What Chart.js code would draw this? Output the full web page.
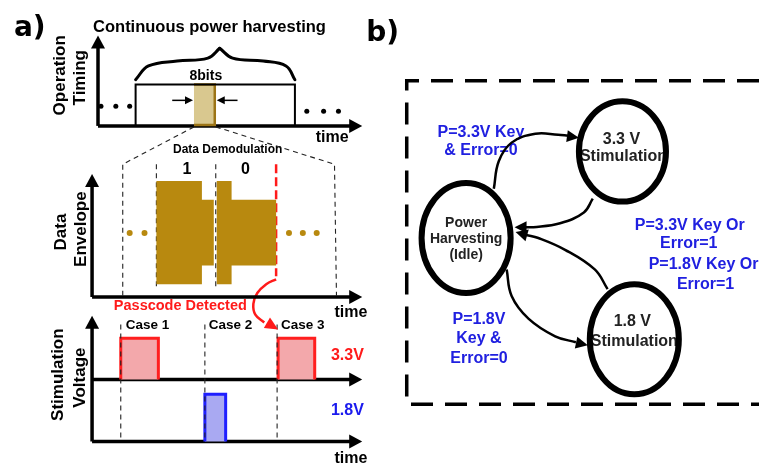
<!DOCTYPE html>
<html><head><meta charset="utf-8">
<script src="https://cdn.jsdelivr.net/npm/chart.js@4.4.0/dist/chart.umd.min.js"></script>
<style>html,body{margin:0;padding:0;background:#fff;overflow:hidden}canvas{display:block}</style>
</head><body>
<canvas id="c" width="763" height="475"></canvas>
<script>
// ---------- texts ----------
const panelTitles = ['a)', 'b)'];
const timingTitle = 'Continuous power harvesting';
const axisTitles = ['Operation', 'Timing', 'Data', 'Envelope', 'Stimulation', 'Voltage'];
const timeLabel = 'time';
const bitsLabel = '8bits';
const demodLabel = 'Data Demodulation';
const bitValues = ['1', '0'];
const passcodeLabel = 'Passcode Detected';
const caseLabels = ['Case 1', 'Case 2', 'Case 3'];
const voltageLabels = ['3.3V', '1.8V'];
const stateNames = ['3.3 V', 'Stimulation', 'Power', 'Harvesting', '(Idle)', '1.8 V', 'Stimulation'];
const conditionLabels = ['P=3.3V Key', '& Error=0', 'P=3.3V Key Or', 'Error=1', 'P=1.8V Key Or', 'Error=1', 'P=1.8V', 'Key &', 'Error=0'];

// ---------- diagram geometry (diagram units: x 0-763, y 0-475 downward) ----------
const axisLines = [
  [[95,124],[95,40]], [[95,124],[352,124]],
  [[89,298],[89,182]], [[89,298],[352,298]],
  [[89,445],[89,326]], [[89,382],[352,382]], [[89,445],[352,445]]
];
const axisTips = [[95,32,95,50],[362,124,340,124],[89,173,89,190],[362,298,340,298],[89,317,89,335],[362,382,340,382],[362,445,340,445]];
const frameBox = [[133,124],[133,82],[294,82],[294,124]];
const windowBox = [[192,82],[213,82],[213,123],[192,123]];
const windowArrows = [[[170,98],[186,98]], [[236,98],[220,98]]];
const windowTips = [[191,98,180,98],[215,98,226,98]];
const blackDots = [[98,104],[113,104],[127,104],[306,109],[323,109],[338,109]];
const zoomGuides = [[[192,125],[120,163],[120,297]], [[214,125],[334,163],[336,297]]];
const bitDividers = [[[154,163],[154,290]], [[214,163],[214,290]]];
const passcodeMarker = [[275,163],[275,277]];
const envelopeBit1 = [[154,180],[200,180],[200,199],[212,199],[212,266],[200,266],[200,285],[154,285]];
const envelopeBit0 = [[215,180],[230,180],[230,199],[275,199],[275,266],[230,266],[230,285],[215,285]];
const goldDots = [[127,233],[142,233],[288,233],[302,233],[316,233]];
const caseGuides = [[[118,326],[118,443]], [[203,326],[203,443]], [[276,326],[276,443]]];
const pulse33a = [[118,382],[118,340],[156,340],[156,382]];
const pulse33b = [[277,382],[277,340],[314,340],[314,382]];
const pulse18 = [[203,445],[203,397],[224,397],[224,445]];
const passcodeArrow = [[275,280],[265,285],[256,294],[252,305],[254,316],[263,324]];
const passcodeTip = [[277,331,262,322]];
const braceLeft = [[133,77],[146,63],[175,58],[206,55],[218,45]];
const braceRight = [[218,45],[231,55],[262,58],[285,63],[294,77]];

const stateFrame = [[763,78],[407,78],[407,407],[763,407]];
const stateNodes = [[625,150,44,51],[467,238,45,56],[637,341,45,56]];
const edgeIdleTo33 = [[495,188],[500,160],[513,141],[537,132],[560,133],[570,134]];
const edge33ToIdle = [[595,198],[586,212],[562,223],[535,227],[526,227]];
const edge18ToIdle = [[610,290],[597,270],[567,250],[540,238],[528,235]];
const edgeIdleTo18 = [[508,270],[513,297],[530,320],[557,338],[578,344]];
const edgeTips = [[581,136,566,134],[516,227,530,227],[517,232,531,236],[590,347,576,344]];

// ---------- text placement ----------
const B = "bold ";
const SANS = "'Liberation Sans', Arial, sans-serif";
const textItems = [
  // [text, x, baselineY, size, color, align, rotate]
  [panelTitles[0], 10, 33, 28, '#000', 'left', 0, "'DejaVu Sans'"],
  [panelTitles[1], 366, 38, 28, '#000', 'left', 0, "'DejaVu Sans'"],
  [timingTitle, 90, 28, 16.5, '#000', 'left', 0],
  [bitsLabel, 204, 77, 14, '#000', 'center', 0],
  [timeLabel, 315, 140, 16, '#000', 'left', 0],
  [timeLabel, 334, 318, 16, '#000', 'left', 0],
  [timeLabel, 334, 467, 16, '#000', 'left', 0],
  [demodLabel, 226, 152, 12, '#000', 'center', 0],
  [bitValues[0], 185, 173, 16, '#000', 'center', 0],
  [bitValues[1], 244, 173, 16, '#000', 'center', 0],
  [passcodeLabel, 111, 311, 14.5, '#ff1a1a', 'left', 0],
  [caseLabels[0], 123, 331, 13.5, '#000', 'left', 0],
  [caseLabels[1], 207, 331, 13.5, '#000', 'left', 0],
  [caseLabels[2], 280, 331, 13.5, '#000', 'left', 0],
  [voltageLabels[0], 347, 362, 16, '#ff1a1a', 'center', 0],
  [voltageLabels[1], 347, 418, 16, '#1a1aee', 'center', 0],
  [axisTitles[0], 62, 72.5, 17, '#000', 'center', 1],
  [axisTitles[1], 82, 75, 17, '#000', 'center', 1],
  [axisTitles[2], 63, 232, 17, '#000', 'center', 1],
  [axisTitles[3], 83, 229, 17, '#000', 'center', 1],
  [axisTitles[4], 60, 377, 17, '#000', 'center', 1],
  [axisTitles[5], 82, 380, 17, '#000', 'center', 1],
  [stateNames[0], 624, 142, 16, '#222', 'center', 0],
  [stateNames[1], 626, 160, 16, '#222', 'center', 0],
  [stateNames[2], 467, 227, 14, '#222', 'center', 0],
  [stateNames[3], 467, 243, 14, '#222', 'center', 0],
  [stateNames[4], 467, 259, 14, '#222', 'center', 0],
  [stateNames[5], 635, 328, 16, '#222', 'center', 0],
  [stateNames[6], 637, 348, 16, '#222', 'center', 0],
  [conditionLabels[0], 482, 135, 16, '#2020e0', 'center', 0],
  [conditionLabels[1], 482, 154, 16, '#2020e0', 'center', 0],
  [conditionLabels[2], 693, 230, 16, '#2020e0', 'center', 0],
  [conditionLabels[3], 692, 248, 16, '#2020e0', 'center', 0],
  [conditionLabels[4], 707, 270, 16, '#2020e0', 'center', 0],
  [conditionLabels[5], 709, 290, 16, '#2020e0', 'center', 0],
  [conditionLabels[6], 480, 325, 16, '#2020e0', 'center', 0],
  [conditionLabels[7], 480, 345, 16, '#2020e0', 'center', 0],
  [conditionLabels[8], 480, 365, 16, '#2020e0', 'center', 0]
];

// ---------- dataset builders ----------
const pts = arr => arr.map(p => ({x: p[0], y: p[1]}));
function line(arr, color, width, extra) {
  return Object.assign({data: pts(arr), showLine: true, pointRadius: 0, borderColor: color,
    borderWidth: width, fill: false, tension: 0, borderCapStyle: 'butt', borderJoinStyle: 'miter'}, extra || {});
}
function poly(arr, fillColor, stroke, width) {
  return {data: pts(arr), showLine: true, pointRadius: 0, borderColor: stroke || 'rgba(0,0,0,0)',
    borderWidth: width || 0, fill: 'shape', backgroundColor: fillColor, tension: 0, borderJoinStyle: 'miter'};
}
function dots(arr, color, r) {
  return {data: pts(arr), showLine: false, pointRadius: r, pointBackgroundColor: color, pointBorderWidth: 0, borderColor: color};
}
const thinDash = {borderDash: [5, 4]};
const datasets = [];
datasets.push(poly(envelopeBit1, '#b8890f'));
datasets.push(poly(envelopeBit0, '#b8890f'));
zoomGuides.forEach(g => datasets.push(line(g, '#222', 1.1, thinDash)));
bitDividers.forEach(g => datasets.push(line(g, '#222', 1.1, thinDash)));
caseGuides.forEach(g => datasets.push(line(g, '#222', 1.1, thinDash)));
datasets.push(line(passcodeMarker, '#ff1a1a', 2.5, {borderDash: [9, 4]}));
datasets.push(line(frameBox, '#000', 2));
datasets.push(poly(windowBox, '#d9c88f', '#9c7416', 2.5));
windowArrows.forEach(g => datasets.push(line(g, '#000', 1.5)));
datasets.push(dots(blackDots, '#000', 2.5));
datasets.push(dots(goldDots, '#b8890f', 3));
datasets.push(poly(pulse33a, '#f3a8ab', '#ff1f1f', 3));
datasets.push(poly(pulse33b, '#f3a8ab', '#ff1f1f', 3));
datasets.push(poly(pulse18, '#a9a9f2', '#1f1fff', 3));
axisLines.forEach(g => datasets.push(line(g, '#000', 3.5)));
datasets.push(line(braceLeft, '#000', 3, {tension: 0.4, borderCapStyle: 'round'}));
datasets.push(line(braceRight, '#000', 3, {tension: 0.4, borderCapStyle: 'round'}));
datasets.push(line(passcodeArrow, '#ff1a1a', 2.5, {tension: 0.4}));
datasets.push(line(stateFrame, '#000', 3.5, {borderDash: [22, 12]}));
[edgeIdleTo33, edge33ToIdle, edge18ToIdle, edgeIdleTo18].forEach(g => datasets.push(line(g, '#000', 2.5, {tension: 0.4})));

// ---------- drawing plugin for text, nodes and arrowheads ----------
function head(ctx, X, Y, t, len, hw, color) {
  const tx = X(t[0]), ty = Y(t[1]), fx = X(t[2]), fy = Y(t[3]);
  const a = Math.atan2(ty - fy, tx - fx);
  ctx.save();
  ctx.translate(tx, ty); ctx.rotate(a);
  ctx.beginPath(); ctx.moveTo(0, 0); ctx.lineTo(-len, -hw); ctx.lineTo(-len, hw); ctx.closePath();
  ctx.fillStyle = color; ctx.fill();
  ctx.restore();
}
const diagram = {
  id: 'diagram',
  beforeDatasetsDraw(chart) {
    const {ctx, scales: {x, y}} = chart;
    const X = v => x.getPixelForValue(v), Y = v => y.getPixelForValue(v);
    ctx.save();
    ctx.fillStyle = '#fff'; ctx.fillRect(0, 0, chart.width, chart.height);
    textItems.forEach(t => {
      ctx.save();
      ctx.font = B + t[3] + 'px ' + (t[7] || SANS);
      ctx.fillStyle = t[4]; ctx.textAlign = t[5]; ctx.textBaseline = 'alphabetic';
      if (t[6]) { ctx.translate(X(t[1]), Y(t[2])); ctx.rotate(-Math.PI / 2); ctx.fillText(t[0], 0, 0); }
      else ctx.fillText(t[0], X(t[1]), Y(t[2]));
      ctx.restore();
    });
    ctx.restore();
  },
  afterDatasetsDraw(chart) {
    const {ctx, scales: {x, y}} = chart;
    const X = v => x.getPixelForValue(v), Y = v => y.getPixelForValue(v);
    ctx.save();
    axisTips.forEach(t => head(ctx, X, Y, t, 13, 7, '#000'));
    windowTips.forEach(t => head(ctx, X, Y, t, 8, 4, '#000'));
    passcodeTip.forEach(t => head(ctx, X, Y, t, 13, 6, '#ff1a1a'));
    edgeTips.forEach(t => head(ctx, X, Y, t, 12, 6, '#000'));
    stateNodes.forEach(n => {
      ctx.beginPath();
      ctx.ellipse(X(n[0]), Y(n[1]), Math.abs(X(n[0] + n[2]) - X(n[0])), Math.abs(Y(n[1] + n[3]) - Y(n[1])), 0, 0, Math.PI * 2);
      ctx.lineWidth = 6; ctx.strokeStyle = '#000'; ctx.stroke();
    });
    ctx.restore();
  }
};

new Chart(document.getElementById('c'), {
  type: 'scatter',
  data: {datasets},
  options: {
    responsive: false, animation: false, devicePixelRatio: 1,
    layout: {padding: 0},
    plugins: {legend: {display: false}, tooltip: {enabled: false}},
    scales: {
      x: {type: 'linear', min: 0, max: 763, display: false},
      y: {type: 'linear', min: 0, max: 475, reverse: true, display: false}
    }
  },
  plugins: [diagram]
});
</script>
</body></html>
